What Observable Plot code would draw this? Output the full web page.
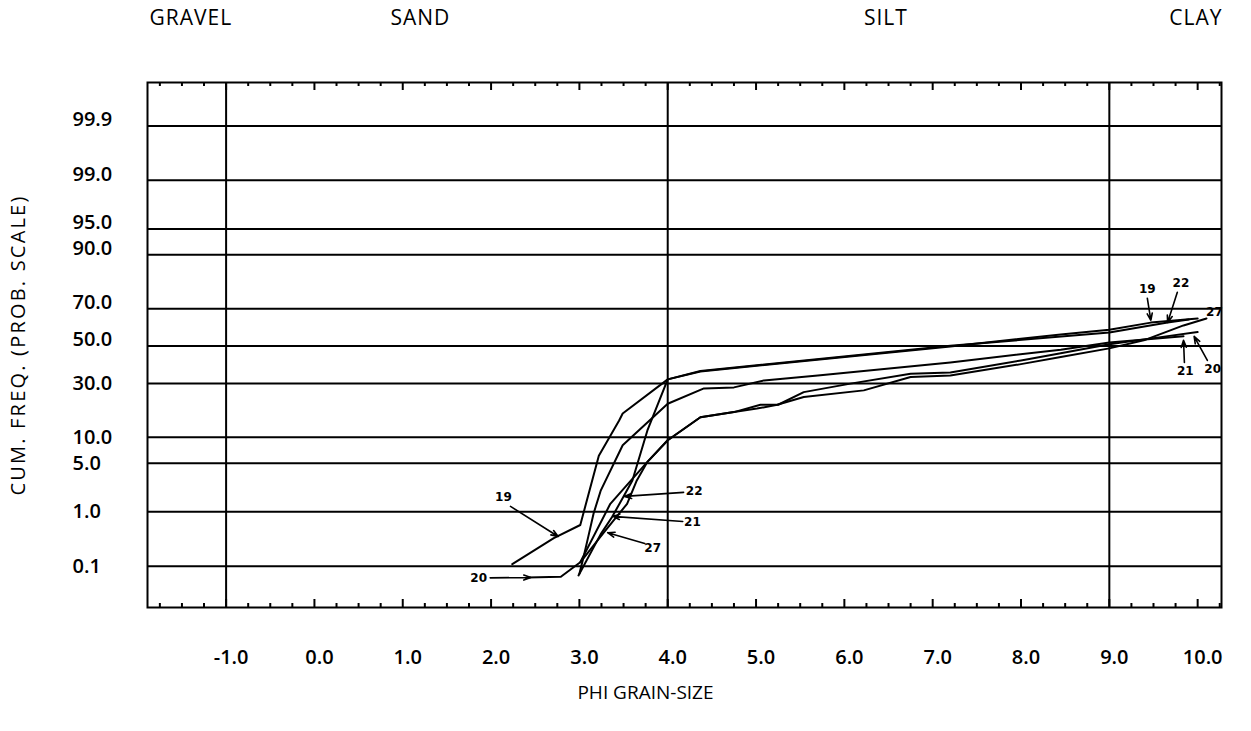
<!DOCTYPE html>
<html><head><meta charset="utf-8">
<script src="https://cdn.jsdelivr.net/npm/d3@7"></script>
<script src="https://cdn.jsdelivr.net/npm/@observablehq/plot@0.6"></script>
<style>body{margin:0;background:#fff;overflow:hidden} svg{display:block}</style>
</head><body><div id="chart"></div>
<script>
// ---- axis definitions ----
const probTicks = [0.1, 1, 5, 10, 30, 50, 70, 90, 95, 99, 99.9];
const probLabels = ["0.1", "1.0", "5.0", "10.0", "30.0", "50.0", "70.0", "90.0", "95.0", "99.0", "99.9"];
const phiTicks = [-1, 0, 1, 2, 3, 4, 5, 6, 7, 8, 9, 10];
const phiLabels = ["-1.0", "0.0", "1.0", "2.0", "3.0", "4.0", "5.0", "6.0", "7.0", "8.0", "9.0", "10.0"];
const classNames = ["GRAVEL", "SAND", "SILT", "CLAY"];
const classPhi = [-1.40, 1.20, 6.47, 9.98];
const classBoundaries = [-1, 4, 9];

// ---- samples: phi grain size vs cumulative frequency (%) ----
const phi19 = [2.24, 2.71, 3.01, 3.22, 3.45, 3.49, 4.00, 4.37, 7.20, 8.45, 9.00, 9.47, 10.00];
const cum19 = [0.11, 0.35, 0.60, 6.2, 14.8, 17.2, 32.0, 36.1, 49.8, 56.5, 59.1, 62.9, 65.1];

const phi20 = [2.41, 2.79, 3.01, 3.35, 3.77, 4.00, 4.37, 4.75, 5.05, 5.25, 5.54, 6.07, 6.75, 7.20, 8.00, 8.45, 9.00, 9.58, 10.00];
const cum20 = [0.058, 0.060, 0.12, 1.34, 5.2, 9.3, 15.9, 17.7, 20.5, 20.5, 25.9, 29.9, 34.9, 35.5, 42.0, 46.0, 51.0, 55.0, 57.8];

const phi21 = [3.00, 3.05, 3.10, 3.16, 3.24, 3.49, 4.00, 4.41, 4.75, 5.09, 5.70, 7.20, 8.45, 9.00, 9.84];
const cum21 = [0.07, 0.16, 0.37, 0.93, 2.1, 8.2, 20.9, 27.6, 28.1, 31.5, 34.0, 40.9, 48.0, 52.0, 55.5];

const phi22 = [2.99, 3.24, 3.37, 3.50, 3.60, 3.77, 4.00, 4.37, 7.20, 9.00, 9.66, 9.90];
const cum22 = [0.064, 0.41, 0.82, 1.74, 2.96, 11.8, 32.0, 36.3, 50.2, 57.5, 63.0, 64.5];

const phi27 = [3.01, 3.28, 3.54, 3.65, 3.77, 4.00, 4.37, 4.75, 5.01, 5.24, 5.54, 6.22, 6.75, 7.20, 8.00, 8.45, 9.00, 9.39, 9.84, 10.10];
const cum27 = [0.12, 0.45, 1.34, 2.96, 5.2, 9.3, 15.9, 17.7, 19.0, 20.5, 23.7, 26.7, 33.2, 34.0, 40.0, 43.9, 48.7, 53.2, 61.4, 65.1];

// ---- sample annotations ----
const labelText = ["19", "22", "21", "27", "20", "19", "22", "27", "21", "20"];
const labelPhi = [2.14, 4.30, 4.28, 3.83, 1.86, 9.43, 9.81, 10.19, 9.86, 10.17];
const labelCum = [1.68, 2.06, 0.66, 0.225, 0.055, 78.7, 81.1, 68.2, 36.1, 37.2];

const arrowFromPhi = [2.22, 4.18, 4.17, 3.74, 1.99, 9.43, 9.77, 9.85, 10.11];
const arrowFromCum = [1.22, 2.0, 0.69, 0.28, 0.057, 74.9, 77.5, 40.9, 42.0];
const arrowToPhi = [2.76, 3.51, 3.375, 3.32, 2.45, 9.47, 9.66, 9.84, 9.96];
const arrowToCum = [0.376, 1.74, 0.84, 0.44, 0.058, 64.1, 63.0, 53.2, 55.4];

// inverse normal CDF (probability scale)
function probit(p) {
  const a = [-3.969683028665376e+01, 2.209460984245205e+02, -2.759285104469687e+02, 1.383577518672690e+02, -3.066479806614716e+01, 2.506628277459239e+00];
  const b = [-5.447609879822406e+01, 1.615858368580409e+02, -1.556989798598866e+02, 6.680131188771972e+01, -1.328068155288572e+01];
  const c = [-7.784894002430293e-03, -3.223964580411365e-01, -2.400758277161838e+00, -2.549732539343734e+00, 4.374664141464968e+00, 2.938163982698783e+00];
  const d = [7.784695709041462e-03, 3.224671290700398e-01, 2.445134137142996e+00, 3.754408661907416e+00];
  const pl = 0.02425, ph = 1 - pl;
  let q, r;
  if (p < pl) {
    q = Math.sqrt(-2 * Math.log(p));
    return (((((c[0]*q+c[1])*q+c[2])*q+c[3])*q+c[4])*q+c[5]) / ((((d[0]*q+d[1])*q+d[2])*q+d[3])*q+1);
  }
  if (p <= ph) {
    q = p - 0.5; r = q * q;
    return (((((a[0]*r+a[1])*r+a[2])*r+a[3])*r+a[4])*r+a[5])*q / (((((b[0]*r+b[1])*r+b[2])*r+b[3])*r+b[4])*r+1);
  }
  q = Math.sqrt(-2 * Math.log(1 - p));
  return -(((((c[0]*q+c[1])*q+c[2])*q+c[3])*q+c[4])*q+c[5]) / ((((d[0]*q+d[1])*q+d[2])*q+d[3])*q+1);
}
const pz = pct => probit(pct / 100);

// ---- build tables ----
const samples = [["19", phi19, cum19], ["20", phi20, cum20], ["21", phi21, cum21], ["22", phi22, cum22], ["27", phi27, cum27]];
const curves = samples.flatMap(([s, xs, ys]) => xs.map((x, i) => ({sample: s, phi: x, z: pz(ys[i])})));
const labels = labelText.map((t, i) => ({t, phi: labelPhi[i], z: pz(labelCum[i])}));
const arrows = arrowFromPhi.map((x, i) => ({x1: x, y1: pz(arrowFromCum[i]), x2: arrowToPhi[i], y2: pz(arrowToCum[i])}));
const gridZ = probTicks.map(pz);
const yTicks = probTicks.map((p, i) => ({z: pz(p), label: probLabels[i], upper: p >= 50}));
const xTicks = phiTicks.map((p, i) => ({phi: p, label: phiLabels[i]}));
const quarterTicks = d3.range(-7, 42).map(k => k / 4).filter(v => !Number.isInteger(v));
const majorTicks = d3.range(-1, 11);

const W = 1251, H = 731, mT = 82, mB = 124, mL = 147, mR = 30;
const plotH = H - mT - mB;

const chart = Plot.plot({
  width: W, height: H,
  marginLeft: mL, marginRight: mR, marginTop: mT, marginBottom: mB,
  x: {domain: [-1.89, 10.27], axis: null},
  y: {domain: [-3.67, 3.70], axis: null},
  style: {fontFamily: "'Open Sans', sans-serif", background: "white", color: "black"},
  marks: [
    Plot.ruleY(gridZ, {stroke: "black", strokeWidth: 2}),
    Plot.ruleX(classBoundaries, {stroke: "black", strokeWidth: 2}),
    // inward frame ticks (top and bottom)
    Plot.tickX(quarterTicks, {x: d => d, insetBottom: plotH - 4, strokeWidth: 2}),
    Plot.tickX(quarterTicks, {x: d => d, insetTop: plotH - 4, strokeWidth: 2}),
    Plot.tickX(majorTicks, {x: d => d, insetBottom: plotH - 8, strokeWidth: 2}),
    Plot.tickX(majorTicks, {x: d => d, insetTop: plotH - 8, strokeWidth: 2}),
    Plot.frame({stroke: "black", strokeWidth: 2}),
    // sample curves
    Plot.line(curves, {x: "phi", y: "z", z: "sample", stroke: "black", strokeWidth: 2, strokeLinejoin: "round"}),
    // annotation arrows and labels
    Plot.arrow(arrows, {x1: "x1", y1: "y1", x2: "x2", y2: "y2", stroke: "black", strokeWidth: 1.6, headLength: 7, headAngle: 40}),
    Plot.text(labels, {x: "phi", y: "z", text: "t", fontSize: 12, fontWeight: "bold", fontFamily: "'DejaVu Sans', sans-serif", fill: "black"}),
    // y tick labels
    Plot.text(yTicks.filter(d => d.upper), {y: "z", text: "label", frameAnchor: "left", textAnchor: "start", dx: -75, dy: -6, fontSize: 20, fontWeight: 600, fill: "black"}),
    Plot.text(yTicks.filter(d => !d.upper), {y: "z", text: "label", frameAnchor: "left", textAnchor: "start", dx: -75, dy: 0, fontSize: 20, fontWeight: 600, fill: "black"}),
    // x tick labels
    Plot.text(xTicks, {x: "phi", text: "label", frameAnchor: "bottom", dy: 50, dx: 5, lineAnchor: "middle", fontSize: 20, fontWeight: 600, fill: "black"}),
    // class names above the frame
    Plot.text(classNames, {x: (d, i) => classPhi[i], text: d => d, frameAnchor: "top", dy: -64, lineAnchor: "middle", fontSize: 21, fontWeight: 500, fill: "black"}),
    // axis titles
    Plot.text(["CUM. FREQ. (PROB. SCALE)"], {text: d => d, frameAnchor: "left", textAnchor: "middle", dx: -129, rotate: -90, fontSize: 20, fill: "black"}),
    Plot.text(["PHI GRAIN-SIZE"], {text: d => d, frameAnchor: "bottom", dx: -39, dy: 85, lineAnchor: "middle", fontSize: 19, fill: "black"})
  ]
});
// letter spacing for the spaced-out titles
d3.select(chart).selectAll("text").each(function() {
  const t = this.textContent;
  if (t === "CUM. FREQ. (PROB. SCALE)") this.style.letterSpacing = "2.2px";
  if (classNames.includes(t)) this.style.letterSpacing = "1px";
});
document.getElementById("chart").appendChild(chart);
</script>
</body></html>
